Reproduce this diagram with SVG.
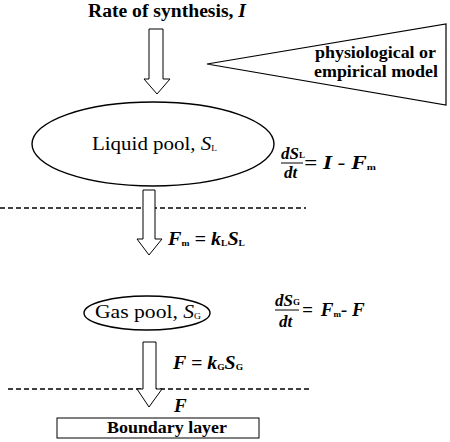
<svg xmlns="http://www.w3.org/2000/svg" width="450" height="442" viewBox="0 0 450 442">
<style>
.ln{fill:none;stroke:#000;stroke-width:1.4}
.ar{fill:#fff;stroke:#000;stroke-width:1}
.ds{stroke:#000;stroke-width:1.5;stroke-dasharray:5,3}
.t{font-family:"Liberation Serif","DejaVu Serif",serif;fill:#000}
.b{font-weight:bold}
.bi{font-weight:bold;font-style:italic}
.sub{font-size:9px;font-weight:bold;font-style:normal}
</style>
<rect width="450" height="442" fill="#fff"/>
<g id="title">
<text class="t b" x="88" y="17" font-size="18" textLength="158" lengthAdjust="spacingAndGlyphs">Rate of synthesis, <tspan font-style="italic">I</tspan></text>
</g>
<g id="model">
<polygon class="ln" points="207,64 446,24 446,105" style="stroke-width:1.2"/>
<text class="t b" x="315" y="58" font-size="17" textLength="121" lengthAdjust="spacingAndGlyphs">physiological or</text>
<text class="t b" x="314" y="77" font-size="17" textLength="124" lengthAdjust="spacingAndGlyphs">empirical model</text>
</g>
<g id="liquid-pool">
<ellipse class="ln" cx="153" cy="144" rx="121" ry="42"/>
<text class="t" x="92" y="150" font-size="18" textLength="125" lengthAdjust="spacingAndGlyphs">Liquid pool, <tspan font-style="italic">S</tspan><tspan font-size="8" dy="1">L</tspan></text>
</g>
<g id="eq-liquid">
<text class="t bi" x="281" y="159" font-size="17">dS<tspan class="sub" dy="-1">L</tspan></text>
<line x1="281" y1="163" x2="303" y2="163" stroke="#000" stroke-width="1"/>
<text class="t bi" x="284" y="178" font-size="17">dt</text>
<text class="t bi" x="304" y="169" font-size="19" textLength="72" lengthAdjust="spacingAndGlyphs">= I - F<tspan class="sub" dy="1">m</tspan></text>
</g>
<g id="gas-pool">
<ellipse class="ln" cx="147" cy="313" rx="63" ry="17"/>
<text class="t" x="95" y="318" font-size="18" textLength="106" lengthAdjust="spacingAndGlyphs">Gas pool, <tspan font-style="italic">S</tspan><tspan font-size="8" dy="1">G</tspan></text>
</g>
<g id="eq-gas">
<text class="t bi" x="275" y="306" font-size="17">dS<tspan class="sub" dy="-1">G</tspan></text>
<line x1="275" y1="310" x2="299" y2="310" stroke="#000" stroke-width="1"/>
<text class="t bi" x="279" y="327" font-size="17">dt</text>
<text class="t bi" x="302" y="316" font-size="19">=<tspan dx="8">F</tspan><tspan class="sub" dy="1">m</tspan><tspan dy="-1">- F</tspan></text>
</g>
<g id="boundary-layer">
<rect x="57" y="418" width="202" height="20" fill="#fff" stroke="#000" stroke-width="1"/>
<text class="t b" x="107" y="433" font-size="16" textLength="120" lengthAdjust="spacingAndGlyphs">Boundary layer</text>
</g>
<g id="connectors">
<line class="ds" x1="0" y1="208" x2="306" y2="208"/>
<line class="ds" x1="8" y1="389" x2="312" y2="389"/>
<polygon class="ar" points="149,29 163,29 163,79 170,79 157,94 144,79 149,79"/>
<polygon class="ar" points="143,190 155,190 155,239 162,239 149,255 137,239 143,239"/>
<polygon class="ar" points="143,342 156,342 156,389 162,389 149,407 137,389 143,389"/>
<text class="t bi" x="168" y="245" font-size="19" textLength="77" lengthAdjust="spacingAndGlyphs">F<tspan class="sub" dy="1">m</tspan><tspan dy="-1"> = k</tspan><tspan class="sub" dy="1">L</tspan><tspan dy="-1">S</tspan><tspan class="sub" dy="1">L</tspan></text>
<text class="t bi" x="173" y="369" font-size="19" textLength="70" lengthAdjust="spacingAndGlyphs">F = k<tspan class="sub" dy="1">G</tspan><tspan dy="-1">S</tspan><tspan class="sub" dy="1">G</tspan></text>
<text class="t bi" x="174" y="412" font-size="19">F</text>
</g>
</svg>
